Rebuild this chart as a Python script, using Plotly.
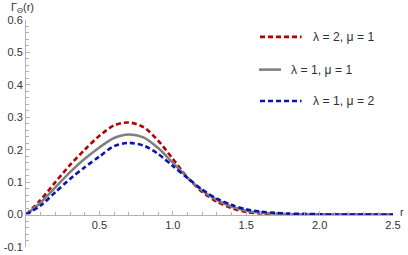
import plotly.graph_objects as go

# ---- data ----
r_vals = [0.0, 0.1, 0.2, 0.3, 0.4, 0.5, 0.6, 0.7, 0.8, 0.9, 1.0, 1.1, 1.2, 1.3,
          1.4, 1.5, 1.6, 1.7, 1.8, 1.9, 2.0, 2.1, 2.2, 2.3, 2.4, 2.5]
gamma_l2_m1 = [0.0, 0.045, 0.100, 0.153, 0.200, 0.243, 0.275, 0.284, 0.270, 0.228,
               0.172, 0.114, 0.070, 0.040, 0.020, 0.008, 0.003, 0.001, 0.0, 0.0,
               0.0, 0.0, 0.0, 0.0, 0.0, 0.0]
gamma_l1_m1 = [0.0, 0.037, 0.084, 0.131, 0.172, 0.207, 0.236, 0.247, 0.238, 0.205,
               0.160, 0.114, 0.074, 0.045, 0.025, 0.012, 0.006, 0.003, 0.001, 0.0,
               0.0, 0.0, 0.0, 0.0, 0.0, 0.0]
gamma_l1_m2 = [0.0, 0.028, 0.069, 0.110, 0.146, 0.179, 0.211, 0.221, 0.213, 0.187,
               0.150, 0.113, 0.077, 0.049, 0.030, 0.016, 0.009, 0.005, 0.003, 0.002,
               0.001, 0.0, 0.0, 0.0, 0.0, 0.0]
series_names = ["λ = 2, μ = 1", "λ = 1, μ = 1", "λ = 1, μ = 2"]
x_tick_vals = [0.5, 1.0, 1.5, 2.0, 2.5]
x_tick_text = ["0.5", "1.0", "1.5", "2.0", "2.5"]
y_tick_vals = [-0.1, 0.0, 0.1, 0.2, 0.3, 0.4, 0.5, 0.6]
y_tick_text = ["-0.1", "0.0", "0.1", "0.2", "0.3", "0.4", "0.5", "0.6"]

RED = "rgb(178,0,0)"
GRAY = "rgb(128,128,128)"
BLUE = "rgb(10,20,178)"
AXIS = "rgb(178,178,178)"
TXT = "rgb(50,50,50)"
FONT = "Liberation Sans, Arial, sans-serif"

styles = [
    dict(color=RED, width=2.6, dash="5px,3px"),
    dict(color=GRAY, width=2.6),
    dict(color=BLUE, width=2.6, dash="5px,3px"),
]
series = [gamma_l2_m1, gamma_l1_m1, gamma_l1_m2]

fig = go.Figure()
for name, ys, st in zip(series_names, series, styles):
    fig.add_trace(go.Scatter(x=r_vals, y=ys, mode="lines", name=name,
                             line=dict(shape="spline", smoothing=0.8, **st),
                             showlegend=False, hoverinfo="skip"))

fig.update_layout(
    width=408, height=255,
    margin=dict(l=26, r=15, t=20, b=8, autoexpand=False),
    paper_bgcolor="white", plot_bgcolor="white",
    font=dict(family=FONT, size=11, color=TXT),
    xaxis=dict(range=[0, 2.5], anchor="free", position=1/7, automargin=False,
               tickmode="array", tickvals=x_tick_vals, ticktext=x_tick_text,
               showline=True, linecolor=AXIS, linewidth=1,
               ticks="inside", ticklen=4, tickcolor=AXIS, tickwidth=1,
               minor=dict(tick0=0, dtick=0.1, ticks="inside", ticklen=2.5,
                          tickcolor=AXIS, showgrid=False),
               showgrid=False, zeroline=False,
               tickfont=dict(size=11, color=TXT)),
    yaxis=dict(range=[-0.1, 0.6], automargin=False,
               tickmode="array", tickvals=y_tick_vals, ticktext=y_tick_text,
               showline=True, linecolor=AXIS, linewidth=1,
               ticks="inside", ticklen=4, tickcolor=AXIS, tickwidth=1,
               minor=dict(tick0=0, dtick=0.02, ticks="inside", ticklen=2.5,
                          tickcolor=AXIS, showgrid=False),
               showgrid=False, zeroline=False,
               tickfont=dict(size=11, color=TXT)),
)

# axis labels
fig.add_annotation(text="Γ<sub>Θ</sub>(r)", xref="paper", yref="paper",
                   x=-0.01, y=1.0, xanchor="center", yanchor="bottom",
                   showarrow=False, font=dict(size=11, color=TXT), yshift=3)
fig.add_annotation(text="r", xref="paper", yref="y", x=1.0, y=0.0,
                   xanchor="left", yanchor="middle", xshift=5, yshift=3,
                   showarrow=False, font=dict(size=11, color=TXT))

# legend (drawn manually to mimic the reference line legend)
legend_y = [0.548, 0.447, 0.350]
legend_x0 = [1.594, 1.587, 1.594]
legend_x1 = [1.877, 1.737, 1.877]
legend_tx = [1.940, 1.792, 1.940]
for name, st, ly, x0, x1, tx in zip(series_names, styles, legend_y, legend_x0, legend_x1, legend_tx):
    fig.add_shape(type="line", xref="x", yref="y", x0=x0, x1=x1, y0=ly, y1=ly,
                  line=dict(color=st["color"], width=st["width"], dash=st.get("dash", "solid")))
    fig.add_annotation(text=name, xref="x", yref="y", x=tx, y=ly,
                       xanchor="left", yanchor="middle", showarrow=False,
                       font=dict(size=12.2, color=TXT))

fig.write_html("out.html", config={"displayModeBar": False},
               post_script="document.body.style.margin='0';document.body.style.padding='0';")
